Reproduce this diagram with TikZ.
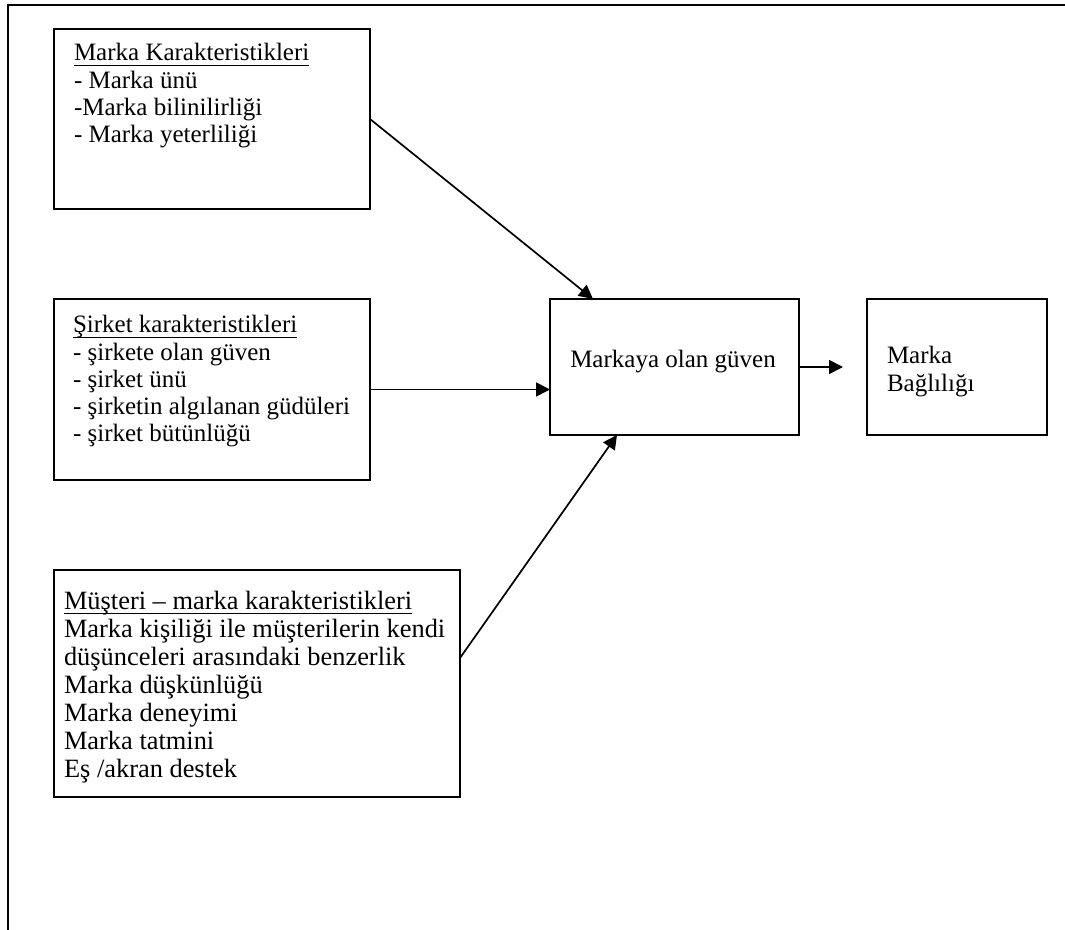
\documentclass[tikz,border=0pt]{standalone}
\usepackage{fontspec}
\setmainfont{Liberation Serif}
\usetikzlibrary{arrows.meta,calc}
\newcommand{\undl}[1]{\setbox0\hbox{#1}\rlap{\rule[-2.4pt]{\wd0}{0.6pt}}\box0}
\begin{document}
\begin{tikzpicture}[x=0.5pt,y=-0.5pt,
  box/.style={draw=black,line width=1pt,inner sep=0pt,outer sep=0pt},
  txt/.style={inner sep=0pt,outer sep=0pt,font=\fontsize{12.5}{13.6}\selectfont},
  txtb/.style={inner sep=0pt,outer sep=0pt,font=\fontsize{13.2}{14}\selectfont},
  conn/.style={line width=0.85pt,-{Triangle[length=7pt,width=7pt]}}]
\useasboundingbox (0,0) rectangle (1065,930);
% outer frame (top and left only)
\draw[line width=1pt] (8,930) -- (8,5) -- (1065,5);
% boxes
\node[box,minimum width=158pt,minimum height=90pt] (b1) at (212,119) {};
\node[box,minimum width=158pt,minimum height=90.5pt] (b2) at (212,389.5) {};
\node[box,minimum width=203pt,minimum height=113.5pt] (b3) at (257,683.5) {};
\node[box,minimum width=124.5pt,minimum height=68pt] (c) at (674.5,367) {};
\node[box,minimum width=90pt,minimum height=68pt] (r) at (957,367) {};
% texts
\node[txt,anchor=base west] (t1) at (74,61) {\begin{tabular}[t]{@{}l@{}}\undl{Marka Karakteristikleri}\\- Marka ünü\\-Marka bilinilirliği\\- Marka yeterliliği\end{tabular}};
\node[txt,anchor=base west] (t2) at (73,333) {\begin{tabular}[t]{@{}l@{}}\undl{Şirket karakteristikleri}\\- şirkete olan güven\\- şirket ünü\\- şirketin algılanan güdüleri\\- şirket bütünlüğü\end{tabular}};
\node[txtb,anchor=base west] (t3) at (64,609) {\begin{tabular}[t]{@{}l@{}}\undl{Müşteri – marka karakteristikleri}\\Marka kişiliği ile müşterilerin kendi\\düşünceleri arasındaki benzerlik\\Marka düşkünlüğü\\Marka deneyimi\\Marka tatmini\\Eş /akran destek\end{tabular}};
\node[txt,anchor=base] (tc) at (673,368) {Markaya olan güven};
\node[txt,anchor=base west] (tr) at (887,364) {\begin{tabular}[t]{@{}l@{}}Marka\\Bağlılığı\end{tabular}};
% connectors
\coordinate (e4) at ($(r.west)+(-24,0)$);
\draw[conn] (b1.east) -- ($(c.north west)+(43,0)$);
\draw[conn] (b2.east) -- (b2.east -| c.west);
\draw[conn] ($(b3.east)+(0,-25.5)$) -- ($(c.south west)+(67,0)$);
\draw[conn] (c.east) -- (e4);
\end{tikzpicture}
\end{document}
